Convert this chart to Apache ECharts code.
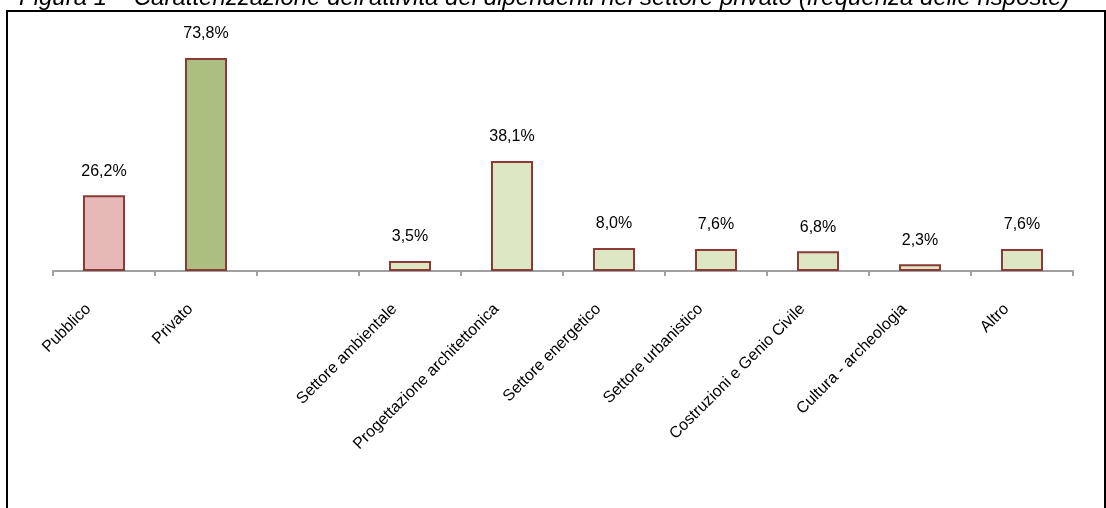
<!DOCTYPE html>
<html>
<head>
<meta charset="utf-8">
<script src="https://cdn.jsdelivr.net/npm/echarts@6/dist/echarts.min.js"></script>
<style>
html,body{margin:0;padding:0;background:#fff;overflow:hidden;}
#frame{position:absolute;left:6px;top:10px;width:1096px;height:600px;border-left:2px solid #000;border-top:2px solid #000;border-right:2px solid #000;}
#chart{position:absolute;left:0;top:0;width:1106px;height:508px;}
</style>
</head>
<body>
<div id="frame"></div>
<div id="chart"></div>
<script>
const titleText = "Figura 1 – Caratterizzazione dell'attività dei dipendenti nel settore privato (frequenza delle risposte)";
const categories = ["Pubblico", "Privato", "", "Settore ambientale", "Progettazione architettonica", "Settore energetico", "Settore urbanistico", "Costruzioni e Genio Civile", "Cultura - archeologia", "Altro"];
const values = [26.2, 73.8, null, 3.5, 38.1, 8.0, 7.6, 6.8, 2.3, 7.6];
const fillColors = ["#E6B9B8", "#ACBF80", "#DDE7C3", "#DDE7C3", "#DDE7C3", "#DDE7C3", "#DDE7C3", "#DDE7C3", "#DDE7C3", "#DDE7C3"];

const FONT = "'Liberation Sans', Arial, Helvetica, sans-serif";
const chart = echarts.init(document.getElementById('chart'), null, {renderer: 'canvas'});
chart.setOption({
  backgroundColor: 'transparent',
  animation: false,
  title: {
    text: titleText,
    left: 14,
    top: -19,
    textStyle: {fontFamily: FONT, fontStyle: 'italic', fontWeight: 'normal', fontSize: 24, color: '#000'}
  },
  grid: {left: 53, right: 33, top: 40, bottom: 237, containLabel: false},
  xAxis: {
    type: 'category',
    data: categories,
    boundaryGap: true,
    axisLine: {show: true, lineStyle: {color: '#A0A0A0', width: 2}},
    axisTick: {show: true, interval: 0, length: 5, lineStyle: {color: '#A0A0A0', width: 2}},
    axisLabel: {interval: 0, rotate: 45, margin: 20, padding: [0, 22, 0, 0], fontSize: 16, fontFamily: FONT, color: '#000'},
    splitLine: {show: false}
  },
  yAxis: {
    type: 'value', min: 0, max: 80, show: false,
    splitLine: {show: false}
  },
  series: [{
    type: 'bar',
    barWidth: 42,
    data: values.map((v, i) => ({
      value: v === null ? '-' : v,
      itemStyle: {color: fillColors[i], borderColor: '#8B3A36', borderWidth: 2}
    })),
    label: {
      show: true,
      position: 'top',
      distance: 16,
      fontSize: 16,
      fontFamily: FONT,
      color: '#000',
      formatter: p => (typeof p.value === 'number') ? p.value.toFixed(1).replace('.', ',') + '%' : ''
    }
  }]
});
</script>
</body>
</html>
